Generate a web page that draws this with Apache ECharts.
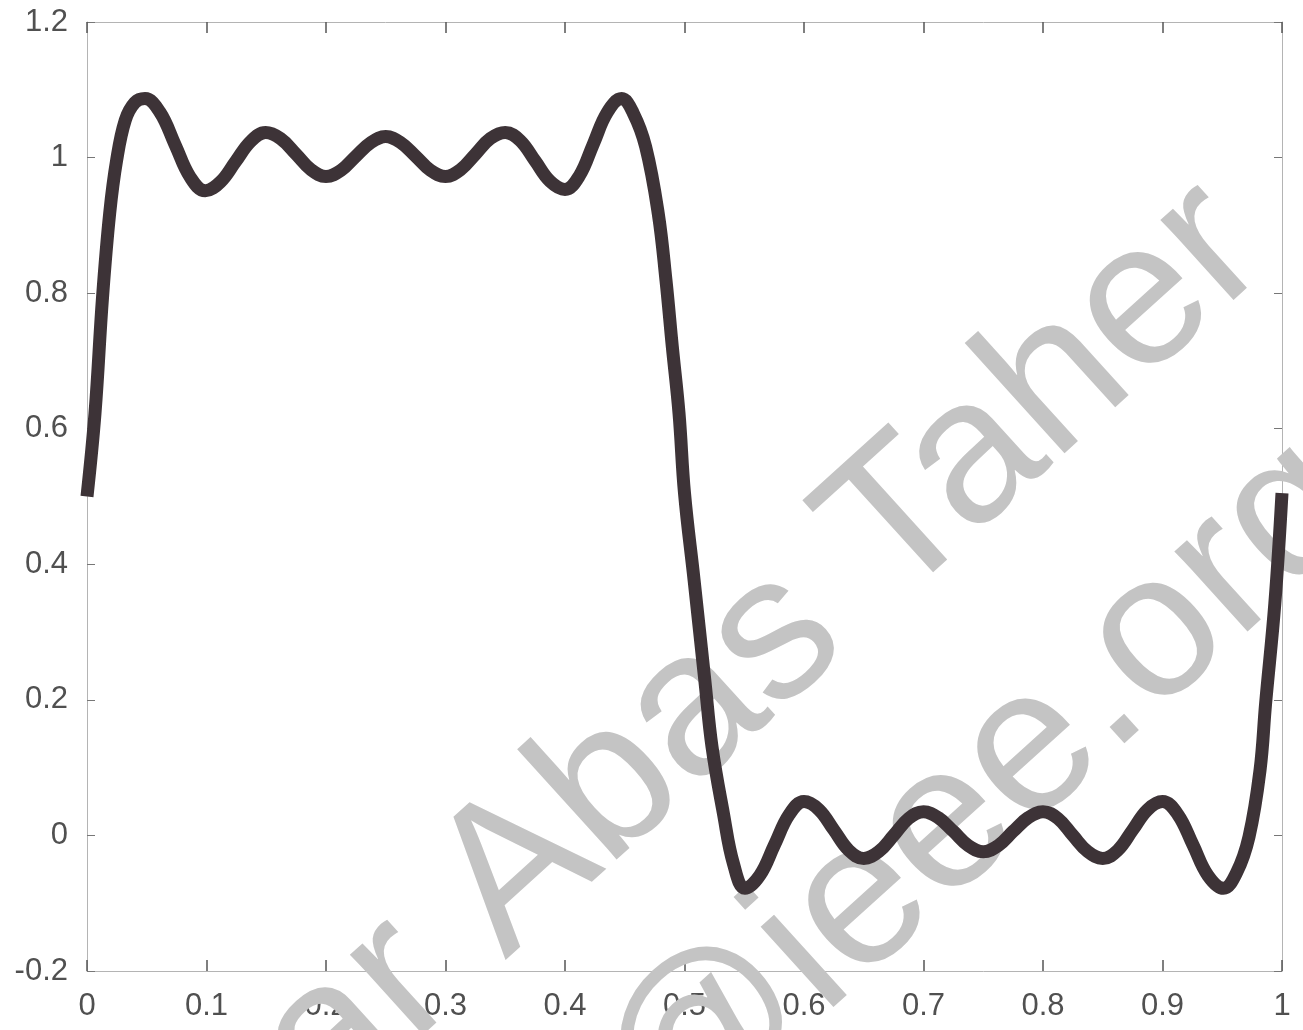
<!DOCTYPE html>
<html>
<head>
<meta charset="utf-8">
<script src="https://cdn.jsdelivr.net/npm/echarts@6/dist/echarts.min.js"></script>
<style>
  html, body { margin: 0; padding: 0; background: #fff; }
  #chart { width: 1303px; height: 1030px; }
</style>
</head>
<body>
<div id="chart"></div>
<script>
// points: x position and curve value
const xValues = [
  0, 0.0067, 0.013, 0.019, 0.0248, 0.032, 0.040, 0.0485,
  0.061, 0.0737, 0.0864, 0.099, 0.1116, 0.1243, 0.137, 0.1495,
  0.162, 0.175, 0.1875, 0.200, 0.2125, 0.225, 0.2375, 0.250,
  0.2625, 0.275, 0.2875, 0.300, 0.3125, 0.325, 0.3375, 0.350,
  0.3625, 0.375, 0.3875, 0.400, 0.412, 0.4237, 0.4355, 0.4474,
  0.457, 0.4675, 0.478, 0.4845, 0.4898, 0.4954, 0.500,
  0.508, 0.517, 0.523, 0.5325, 0.541, 0.5506,
  0.563, 0.5753, 0.5877, 0.600, 0.6125, 0.625, 0.6375, 0.650,
  0.6625, 0.675, 0.6875, 0.700, 0.7125, 0.725, 0.7375, 0.750,
  0.7625, 0.775, 0.7875, 0.800, 0.8125, 0.825, 0.8375, 0.850,
  0.8625, 0.875, 0.8875, 0.900, 0.9128, 0.9255, 0.938, 0.951,
  0.962, 0.9724, 0.9816, 0.9863, 0.994, 1.000
]
const yValues = [
  0.500, 0.623, 0.794, 0.918, 0.996, 1.055, 1.081, 1.087,
  1.067, 1.019, 0.971, 0.951, 0.964, 0.994, 1.024, 1.037,
  1.028, 1.005, 0.982, 0.972, 0.981, 1.002, 1.022, 1.031,
  1.022, 1.002, 0.981, 0.972, 0.982, 1.005, 1.028, 1.037,
  1.025, 0.995, 0.965, 0.953, 0.973, 1.020, 1.067, 1.087,
  1.066, 1.016, 0.918, 0.819, 0.721, 0.623, 0.505,
  0.377, 0.229, 0.131, 0.033, -0.042, -0.078,
  -0.059, -0.014, 0.031, 0.050, 0.038, 0.008, -0.022, -0.034,
  -0.024, 0.000, 0.025, 0.035, 0.026, 0.006, -0.015, -0.024,
  -0.015, 0.006, 0.026, 0.035, 0.025, 0.000, -0.024, -0.034,
  -0.022, 0.008, 0.038, 0.050, 0.031, -0.014, -0.059, -0.078,
  -0.055, -0.002, 0.096, 0.195, 0.342, 0.505
]
const xTicks = [0, 1, 0.1]      // min, max, step
const yTicks = [-0.2, 1.2, 0.2]
const watermark = ['ar Abas Taher', '@ieee.org']

const chart = echarts.init(document.getElementById('chart'))

const labelFont = '"Liberation Sans Narrow", "Liberation Sans", Arial, sans-serif'
const frameLine = { show: true, onZero: false, lineStyle: { color: '#b4b4b4', width: 1 } }

function xAxis(pos, labels) {
  return {
    type: 'value',
    position: pos,
    min: xTicks[0],
    max: xTicks[1],
    interval: xTicks[2],
    axisLine: frameLine,
    axisTick: { show: true, inside: true, length: 11, lineStyle: { color: '#555', width: 1.5 } },
    axisLabel: {
      show: labels,
      margin: 20,
      fontSize: 31,
      color: '#505050',
      fontFamily: labelFont
    },
    splitLine: { show: false }
  }
}

function yAxis(pos, labels) {
  return {
    type: 'value',
    position: pos,
    min: yTicks[0],
    max: yTicks[1],
    interval: yTicks[2],
    axisLine: frameLine,
    axisTick: { show: true, inside: true, length: 8, lineStyle: { color: '#777', width: 1 } },
    axisLabel: {
      show: labels,
      margin: 19,
      fontSize: 31,
      color: '#505050',
      fontFamily: labelFont
    },
    splitLine: { show: false }
  }
}

const rot = 42.2 * Math.PI / 180

function mark(text, x, y) {
  return {
    type: 'text',
    z: 1,
    x: x,
    y: y,
    rotation: rot,
    style: {
      text: text,
      fontSize: 205,
      fontFamily: '"Liberation Sans", Arial, sans-serif',
      fill: '#c4c4c4',
      align: 'left',
      verticalAlign: 'bottom'
    }
  }
}

const option = {
  animation: false,
  backgroundColor: '#fff',
  grid: { left: 87, right: 21, top: 22, bottom: 59, outerBoundsMode: 'none' },
  xAxis: [xAxis('bottom', true), xAxis('top', false)],
  yAxis: [yAxis('left', true), yAxis('right', false)],
  graphic: [
    mark(watermark[0], 359, 1155),
    mark(watermark[1], 700, 1190)
  ],
  series: [
    {
      type: 'line',
      xAxisIndex: 0,
      yAxisIndex: 0,
      z: 3,
      data: xValues.map((x, i) => [x, yValues[i]]),
      smooth: 0.4,
      showSymbol: false,
      lineStyle: { color: '#3d3337', width: 13, cap: 'butt', join: 'round' }
    }
  ]
}

chart.setOption(option)
</script>
</body>
</html>
